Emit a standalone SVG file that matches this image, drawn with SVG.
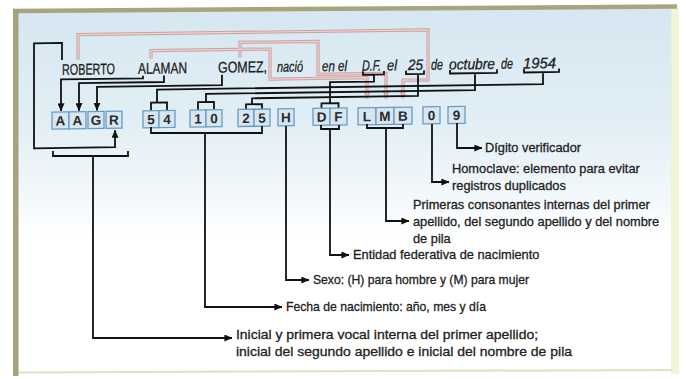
<svg xmlns="http://www.w3.org/2000/svg" width="686" height="379" viewBox="0 0 686 379">
<defs>
  <linearGradient id="bg" x1="0" y1="0" x2="0" y2="1">
    <stop offset="0" stop-color="#d6e7f1"/>
    <stop offset="0.3" stop-color="#e1eef5"/>
    <stop offset="0.52" stop-color="#f3f8fb"/>
    <stop offset="0.62" stop-color="#ffffff"/>
    <stop offset="1" stop-color="#ffffff"/>
  </linearGradient>
  <marker id="ah" viewBox="0 0 8 7" refX="7.6" refY="3.5" markerWidth="8" markerHeight="7" markerUnits="userSpaceOnUse" orient="auto">
    <path d="M0,0 L8,3.5 L0,7 z" fill="#111"/>
  </marker>
  <marker id="ahp" viewBox="0 0 8 7" refX="7.6" refY="3.5" markerWidth="8" markerHeight="7" markerUnits="userSpaceOnUse" orient="auto">
    <path d="M0,0 L8,3.5 L0,7 z" fill="#cc9999"/>
  </marker>
  <path id="pk1" d="M78 56 V31 H428 V81 H403 V99"/>
  <path id="pk2" d="M151 56 V48 H270 V78 H367 V99"/>
  <path id="pk3" d="M240 56 V41 H318 V74 H386 V99"/>
</defs>
<style>
  .t{font-family:"Liberation Sans",Arial,sans-serif;fill:#1e1e1e;stroke:#1e1e1e;stroke-width:0.3}
  .nm{font-size:15.5px}
  .it{font-size:15px;font-style:italic}
  .lb{font-size:12.8px}
  .bx rect{fill:#d7e7f2;stroke:#6b9bc2;stroke-width:1.3}
  .bx text{font-family:"Liberation Sans",Arial,sans-serif;font-size:13.5px;font-weight:bold;fill:#2a2a2a;text-anchor:middle}
  .ln{fill:none;stroke:#111;stroke-width:1.8}
  .pko{fill:none;stroke:#cf9e9e;stroke-width:3.2}
  .pki{fill:none;stroke:#ecd5d5;stroke-width:1.2}
</style>

<!-- frame -->
<g id="frame">
  <rect x="0" y="0" width="686" height="379" fill="#ffffff"/>
  <rect x="18" y="9" width="654" height="364" fill="url(#bg)"/>
  <rect x="671" y="8" width="8" height="366" fill="#eef1cf" opacity="0.8"/>
  <path d="M18 372.5 L672 370" stroke="#e4e1bd" stroke-width="2" fill="none"/>
  <path d="M13 11 L677 6.5" stroke="#a9a47d" stroke-width="4.5" fill="none"/>
  <rect x="13" y="9" width="5.5" height="367" fill="#a5a27c"/>
</g>

<g transform="translate(0 4.79) skewY(-0.8)">
  <!-- pink connectors -->
  <g id="pink-connectors">
    <use href="#pk1" class="pko" marker-end="url(#ahp)"/>
    <use href="#pk2" class="pko" marker-end="url(#ahp)"/>
    <use href="#pk3" class="pko" marker-end="url(#ahp)"/>
    <use href="#pk1" class="pki"/>
    <use href="#pk2" class="pki"/>
    <use href="#pk3" class="pki"/>
  </g>

  <!-- top sentence -->
  <g id="sentence" class="t">
    <text x="62" y="71" class="nm" textLength="53" lengthAdjust="spacingAndGlyphs">ROBERTO</text>
    <text x="138" y="71" class="nm" textLength="49" lengthAdjust="spacingAndGlyphs">ALAMAN</text>
    <text x="218" y="71" class="nm" textLength="49" lengthAdjust="spacingAndGlyphs">GOMEZ,</text>
    <text x="277" y="71" class="it" textLength="26" lengthAdjust="spacingAndGlyphs">nació</text>
    <text x="322" y="71" class="it" textLength="25" lengthAdjust="spacingAndGlyphs">en el</text>
    <text x="362" y="71" class="it" textLength="19" lengthAdjust="spacingAndGlyphs">D.F.</text>
    <text x="387" y="71" class="it" textLength="10" lengthAdjust="spacingAndGlyphs">el</text>
    <text x="408" y="71" class="it" textLength="15" lengthAdjust="spacingAndGlyphs">25</text>
    <text x="431" y="71" class="it" textLength="12" lengthAdjust="spacingAndGlyphs">de</text>
    <text x="449" y="71" class="it" textLength="46" lengthAdjust="spacingAndGlyphs">octubre</text>
    <text x="501" y="71" class="it" textLength="12" lengthAdjust="spacingAndGlyphs">de</text>
    <text x="523" y="71" class="it" textLength="33" lengthAdjust="spacingAndGlyphs">1954</text>
  </g>

  <!-- upper black connectors -->
  <g id="upper-connectors">
    <path class="ln" d="M62 56 V39 H34 V144 H115 V127" marker-end="url(#ah)"/>
    <path class="ln" d="M143 73 V75.5 H61 V107" marker-end="url(#ah)"/>
    <path class="ln" d="M164 73 V79.5 H79 V107" marker-end="url(#ah)"/>
    <path class="ln" d="M222 73 V83.5 H97 V107" marker-end="url(#ah)"/>
    <path class="ln" d="M363 71.5 V75 H384 V71.5 M374 75 V82 H330 V103 M321.5 108 V103 H338.5 V108"/>
    <path class="ln" d="M406 71.5 V75 H424 V71.5 M418 75 V97 H252 V103 M246 108 V103 H262 V108"/>
    <path class="ln" d="M450 71.5 V75 H497 V71.5 M475 75 V92 H206 V100 M198 108 V100 H214 V108"/>
    <path class="ln" d="M524 71.5 V75 H559 V71.5 M543 75 V87 H157 V100 M151 108 V100 H167 V108"/>
  </g>

  <!-- code boxes -->
  <g id="b-A1" class="bx"><rect x="52" y="108" width="17" height="17"/><text x="60.5" y="121.5">A</text></g>
  <g id="b-A2" class="bx"><rect x="69" y="108" width="17" height="17"/><text x="77.5" y="121.5">A</text></g>
  <g id="b-G" class="bx"><rect x="88" y="108" width="16" height="17"/><text x="96" y="121.5">G</text></g>
  <g id="b-R" class="bx"><rect x="106" y="108" width="16" height="17"/><text x="114" y="121.5">R</text></g>
  <g id="b-5a" class="bx"><rect x="143" y="108" width="16" height="17"/><text x="151" y="121.5">5</text></g>
  <g id="b-4" class="bx"><rect x="159" y="108" width="16" height="17"/><text x="167" y="121.5">4</text></g>
  <g id="b-1" class="bx"><rect x="190" y="108" width="16" height="17"/><text x="198" y="121.5">1</text></g>
  <g id="b-0a" class="bx"><rect x="206" y="108" width="16" height="17"/><text x="214" y="121.5">0</text></g>
  <g id="b-2" class="bx"><rect x="238" y="108" width="16" height="17"/><text x="246" y="121.5">2</text></g>
  <g id="b-5b" class="bx"><rect x="254" y="108" width="16" height="17"/><text x="262" y="121.5">5</text></g>
  <g id="b-H" class="bx"><rect x="278" y="108" width="16" height="17"/><text x="286" y="121.5">H</text></g>
  <g id="b-D" class="bx"><rect x="313" y="108" width="17" height="17"/><text x="321.5" y="121.5">D</text></g>
  <g id="b-F" class="bx"><rect x="330" y="108" width="17" height="17"/><text x="338.5" y="121.5">F</text></g>
  <g id="b-L" class="bx"><rect x="358" y="108" width="18" height="17"/><text x="367" y="121.5">L</text></g>
  <g id="b-M" class="bx"><rect x="376" y="108" width="18" height="17"/><text x="385" y="121.5">M</text></g>
  <g id="b-B" class="bx"><rect x="394" y="108" width="18" height="17"/><text x="403" y="121.5">B</text></g>
  <g id="b-0b" class="bx"><rect x="423" y="108" width="17" height="17"/><text x="431.5" y="121.5">0</text></g>
  <g id="b-9" class="bx"><rect x="448" y="108" width="17" height="17"/><text x="456.5" y="121.5">9</text></g>
</g>

<!-- lower connectors -->
<g id="lower-connectors">
  <path class="ln" d="M457 123 V148 H482" marker-end="url(#ah)"/>
  <path class="ln" d="M432 124 V182 H449" marker-end="url(#ah)"/>
  <path class="ln" d="M367 124 V128 H403 V124"/>
  <path class="ln" d="M386 128 V221 H409" marker-end="url(#ah)"/>
  <path class="ln" d="M321 125 V129 H339 V125"/>
  <path class="ln" d="M330 129 V255 H349" marker-end="url(#ah)"/>
  <path class="ln" d="M286 126 V280 H309" marker-end="url(#ah)"/>
  <path class="ln" d="M151 127 V133 H262 V126"/>
  <path class="ln" d="M205 133 V307 H282" marker-end="url(#ah)"/>
  <path class="ln" d="M53 151 V156 H128 V151"/>
  <path class="ln" d="M93 156 V338 H232" marker-end="url(#ah)"/>
</g>

<!-- labels -->
<g id="l-digito" class="t lb"><text x="485" y="152">Dígito verificador</text></g>
<g id="l-homoclave" class="t lb"><text x="452" y="173">Homoclave: elemento para evitar<tspan x="452" y="190">registros duplicados</tspan></text></g>
<g id="l-consonantes" class="t lb"><text x="413" y="209">Primeras consonantes internas del primer<tspan x="413" y="226">apellido, del segundo apellido y del nombre</tspan><tspan x="413" y="243">de pila</tspan></text></g>
<g id="l-entidad" class="t lb"><text x="353" y="259">Entidad federativa de nacimiento</text></g>
<g id="l-sexo" class="t lb"><text x="313" y="284" textLength="216" lengthAdjust="spacingAndGlyphs">Sexo: (H) para hombre y (M) para mujer</text></g>
<g id="l-fecha" class="t lb"><text x="286" y="311" textLength="200" lengthAdjust="spacingAndGlyphs">Fecha de nacimiento: año, mes y día</text></g>
<g id="l-inicial" class="t lb"><text x="236" y="339" textLength="302" lengthAdjust="spacingAndGlyphs">Inicial y primera vocal interna del primer apellido;</text><text x="236" y="356" textLength="336" lengthAdjust="spacingAndGlyphs">inicial del segundo apellido e inicial del nombre de pila</text></g>
</svg>
